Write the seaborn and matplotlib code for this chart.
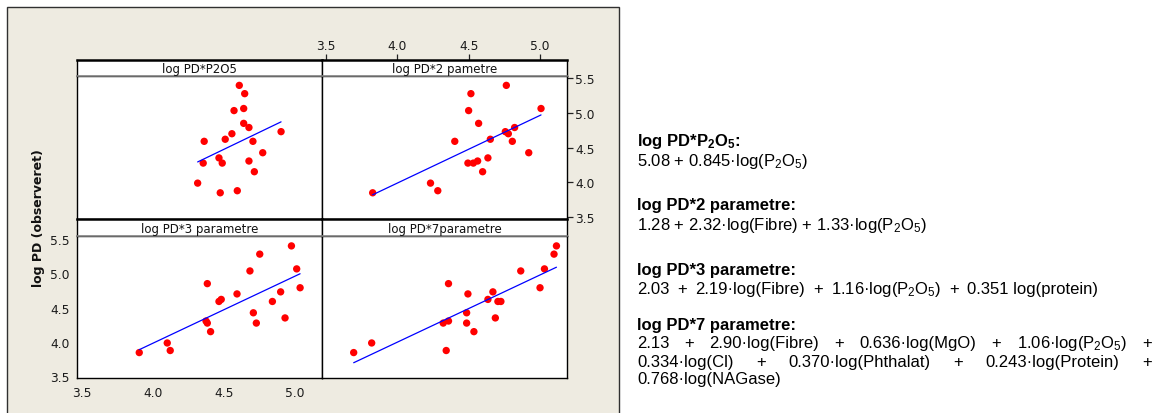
import matplotlib
matplotlib.use('Agg')
import matplotlib.pyplot as plt
from matplotlib.patches import Rectangle
import seaborn as sns

# observed log PD (sorted) and predicted values of each model, same order
observed = [3.845, 3.875, 3.985, 4.15, 4.275, 4.275, 4.305, 4.35, 4.425, 4.59,
            4.59, 4.62, 4.70, 4.73, 4.79, 4.85, 5.035, 5.065, 5.28, 5.40]
pred_p2o5 = [4.476, 4.596, 4.317, 4.716, 4.356, 4.490, 4.678, 4.467, 4.775, 4.363,
             4.706, 4.511, 4.558, 4.904, 4.678, 4.641, 4.573, 4.641, 4.648, 4.610]
pred_2par = [3.827, 4.283, 4.232, 4.597, 4.494, 4.532, 4.562, 4.634, 4.920, 4.402,
             4.805, 4.651, 4.777, 4.756, 4.821, 4.569, 4.499, 5.006, 4.515, 4.763]
pred_3par = [3.906, 4.124, 4.103, 4.408, 4.385, 4.730, 4.376, 4.932, 4.709, 4.467,
             4.843, 4.483, 4.594, 4.901, 5.038, 4.385, 4.685, 5.014, 4.754, 4.977]
pred_7par = [3.694, 4.342, 3.820, 4.536, 4.321, 4.485, 4.358, 4.686, 4.485, 4.704,
             4.725, 4.634, 4.494, 4.669, 4.999, 4.358, 4.864, 5.030, 5.097, 5.114]

panel_titles = ['log PD*P2O5', 'log PD*2 pametre', 'log PD*3 parametre', 'log PD*7parametre']
xticks = [3.5, 4.0, 4.5, 5.0]
yticks = [3.5, 4.0, 4.5, 5.0, 5.5]
ylabel = 'log PD (observeret)'

sns.set_theme(style='white')
plt.rcParams['font.family'] = ['DejaVu Sans']
plt.rcParams['mathtext.fontset'] = 'custom'
plt.rcParams['mathtext.rm'] = 'Liberation Sans'
plt.rcParams['mathtext.it'] = 'Liberation Sans:italic'
plt.rcParams['mathtext.bf'] = 'Liberation Sans:bold'

W, H = 1162, 414
fig = plt.figure(figsize=(W / 100, H / 100), dpi=100)


def box(x0, y0, x1, y1):
    # pixel box (from top-left) -> figure fraction rect
    return [x0 / W, 1 - y1 / H, (x1 - x0) / W, (y1 - y0) / H]


# beige graph window
fig.add_artist(Rectangle((7 / W, -0.05), (619 - 7) / W, 1.05 - 8 / H,
                         transform=fig.transFigure, facecolor='#EEEBE1',
                         edgecolor='#303030', lw=1.0, zorder=-10))

XLIM = (3.47, 5.19)
YLIM = (3.47, 5.54)
cols = [(77.3, 321.7), (321.7, 567.3)]
rows = [(60.7, 76.7, 219.7), (219.7, 237.3, 379.3)]
preds = [pred_p2o5, pred_2par, pred_3par, pred_7par]
tick_style = dict(direction='out', length=4, width=0.9, color='#222222',
                  labelsize=8.8, labelcolor='#1a1a1a', pad=1.5)

for i, (title, pred) in enumerate(zip(panel_titles, preds)):
    r, c = divmod(i, 2)
    x0, x1 = cols[c]
    s0, s1, y1 = rows[r]
    ax = fig.add_axes(box(x0, s1, x1, y1))
    ax.set_facecolor('white')
    sns.regplot(x=pred, y=observed, ax=ax, ci=None, truncate=True,
                scatter_kws=dict(s=28, color='#FF0000', edgecolor='none', linewidths=0, alpha=1),
                line_kws=dict(color='#0000FF', lw=0.9))
    ax.set_xlim(*XLIM)
    ax.set_ylim(*YLIM)
    ax.set_xlabel('')
    ax.set_ylabel('')
    for sp in ax.spines.values():
        sp.set_color('black')
        sp.set_linewidth(1.0)
    ax.tick_params(**tick_style)
    ax.set_xticks([])
    if i == 2:
        ax.set_xticks(xticks, [f'{v:.1f}' for v in xticks])
        ax.set_yticks(yticks, [f'{v:.1f}' for v in yticks])
    elif i == 1:
        ax.set_yticks(yticks, [f'{v:.1f}' for v in yticks])
        ax.yaxis.tick_right()
    else:
        ax.set_yticks([])

    # strip above each panel
    sx = fig.add_axes(box(x0, s0, x1, s1))
    sx.set_facecolor('white')
    sx.set_xlim(*XLIM)
    sx.set_yticks([])
    sx.set_xticks([])
    for sp in sx.spines.values():
        sp.set_color('black')
        sp.set_linewidth(1.0)
    sx.spines['top'].set_linewidth(1.8)
    sx.spines['bottom'].set_color('#808080')
    sx.spines['bottom'].set_linewidth(1.2)
    if i == 1:
        # top x axis of the grid sits above the strip
        sx.set_xticks(xticks, [f'{v:.1f}' for v in xticks])
        sx.xaxis.tick_top()
        sx.tick_params(**tick_style)
    sx.text(0.5, 0.45, title, ha='center', va='center', fontsize=8.5,
            color='#111111', transform=sx.transAxes)

fig.text(39 / W, 1 - 218 / H, ylabel, rotation=90, ha='center', va='center',
         fontsize=9, fontweight='bold', color='#111111')

# model equations on the right
tx = 637
font = dict(family='Liberation Sans', fontsize=12, color='black', va='baseline')
renderer = fig.canvas.get_renderer()


def line(ypx, s, bold=False):
    return fig.text(tx / W, 1 - ypx / H, s, fontweight='bold' if bold else 'normal', **font)


def spread(ypx, tokens, x_right):
    # lay tokens out so the line runs from tx to x_right
    texts = [fig.text(0, 1 - ypx / H, t, **font) for t in tokens]
    widths = [t.get_window_extent(renderer).width for t in texts]
    gap = (x_right - tx - sum(widths)) / (len(tokens) - 1)
    x = tx
    for t, w in zip(texts, widths):
        t.set_x(x / W)
        x += w + gap


P2O5 = r'P$_\mathrm{2}$O$_\mathrm{5}$'
line(146, r'log PD*P$_\mathbf{2}$O$_\mathbf{5}$:', bold=True)
line(166, '5.08 + 0.845·log(' + P2O5 + ')')
line(210, 'log PD*2 parametre:', bold=True)
line(230, '1.28 + 2.32·log(Fibre) + 1.33·log(' + P2O5 + ')')
line(275, 'log PD*3 parametre:', bold=True)
spread(294, ['2.03', '+', '2.19·log(Fibre)', '+', '1.16·log(' + P2O5 + ')', '+',
             '0.351 log(protein)'], 1098)
line(330, 'log PD*7 parametre:', bold=True)
spread(348.5, ['2.13', '+', '2.90·log(Fibre)', '+', '0.636·log(MgO)', '+',
               '1.06·log(' + P2O5 + ')', '+'], 1152)
spread(366.5, ['0.334·log(Cl)', '+', '0.370·log(Phthalat)', '+',
               '0.243·log(Protein)', '+'], 1152)
line(384.5, '0.768·log(NAGase)')

fig.savefig('out.png', dpi=100, facecolor='white')
